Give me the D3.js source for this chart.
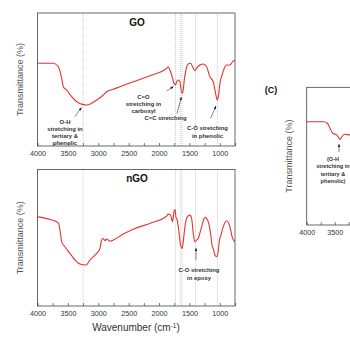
<!DOCTYPE html>
<html><head><meta charset="utf-8">
<script src="https://cdn.jsdelivr.net/npm/d3@7"></script>
<style>body{margin:0;background:#fff}svg{display:block}</style>
</head><body><svg id="c" width="350" height="342"></svg>
<script>
// ---- data ----
const xTicks = [4000,3750,3500,3250,3000,2750,2500,2250,2000,1750,1500,1250,1000,750];
const xTickLabels = [4000,3500,3000,2500,2000,1500,1000];
const guideLines = [3250,1730,1650,1620,1400,1040];

const goWave = [4000,3740,3657,3602,3575,3520,3438,3355,3247,3191,3109,3026,2918,2862,2753,2643,2424,2150,1875,1849,1821,1777,1755,1727,1711,1684,1656,1640,1618,1602,1585,1558,1520,1480,1437,1410,1382,1327,1272,1217,1163,1108,1064,1043,1020,998,954,916,888,833,780,752];
const goT    = [62.2,62.2,59.6,50.9,44.6,42.1,37.1,33.3,31.1,30.8,32.1,34.6,38.3,40.8,42.6,44.6,48.3,52.9,58.4,59.6,57.1,50.9,47.1,45.9,48.3,49.6,48.3,43.4,39.6,42.1,49.6,57.1,61.7,62.2,58.4,56.6,58.4,60.9,61.7,59.6,52.1,48.3,38.3,34.6,38.3,47.1,54.7,59.6,60.9,60.9,63.9,64.2];

const ngoWave = [4000,3794,3657,3630,3602,3548,3465,3383,3301,3202,3137,3026,2972,2944,2918,2890,2862,2808,2753,2589,2424,2150,1875,1849,1810,1777,1755,1738,1722,1700,1673,1645,1618,1602,1574,1536,1492,1464,1437,1410,1382,1355,1300,1245,1190,1152,1125,1108,1081,1053,1026,1010,982,944,888,833,790,752];
const ngoT    = [65.3,63.4,60.9,55.6,47.0,43.4,38.5,33.7,30.7,30.0,33.7,38.5,42.2,48.3,49.5,47.8,49.0,47.5,48.3,52.7,56.3,60.5,65.8,67.3,66.6,61.7,69.0,70.7,65.3,62.9,54.4,44.6,42.2,47.0,58.0,65.3,66.6,64.2,53.2,47.0,48.3,49.5,58.0,64.9,61.7,53.2,43.9,42.2,37.3,36.1,39.7,47.0,51.9,58.0,62.4,58.0,49.5,47.0];

const cWave = [4000,3702,3631,3584,3536,3464,3405,3375,3316,3227,3100];
const cT    = [75.0,75.0,73.9,70.2,66.6,65.4,62.2,64.1,65.9,65.4,65.2];
const cTicks = [4000,3750,3500,3250,3000];
const cTickLabels = [4000,3500];

// ---- drawing ----
const svg = d3.select("#c");
const RED = "#e8322f";
const FONT = "'Liberation Sans', Arial, sans-serif";

function panel(o){
  const g = svg.append("g");
  const x = d3.scaleLinear().domain(o.xDomain).range([o.x0, o.x1]);
  const y = d3.scaleLinear().domain([0,100]).range([o.y1, o.y0]);
  (o.guides||[]).forEach(w=>{
    g.append("line").attr("x1",x(w)).attr("x2",x(w)).attr("y1",o.y0).attr("y2",o.y1)
      .attr("stroke","#aaa").attr("stroke-width",0.6).attr("stroke-dasharray","1,1");
  });
  const data = o.wave.map((w,i)=>[w,o.t[i]]);
  g.append("path").datum(data)
    .attr("d", d3.line().x(d=>x(d[0])).y(d=>y(d[1])).curve(d3.curveMonotoneX))
    .attr("fill","none").attr("stroke",RED).attr("stroke-width",1.1);
  g.append("rect").attr("x",o.x0).attr("y",o.y0).attr("width",o.boxW||(o.x1-o.x0)).attr("height",o.y1-o.y0)
    .attr("fill","none").attr("stroke","#444").attr("stroke-width",0.8);
  const ax = d3.axisBottom(x).tickValues(o.ticks).tickSizeInner(-3).tickSizeOuter(0)
    .tickFormat(d=> o.labels.includes(d) ? d : "");
  const a = g.append("g").attr("transform",`translate(0,${o.y1})`).call(ax);
  a.select(".domain").remove();
  a.selectAll(".tick line").attr("stroke","#444").attr("stroke-width",0.7);
  a.selectAll(".tick text").attr("font-family",FONT).attr("font-size",7.2).attr("fill","#333").attr("dy","0.3em").attr("y",8);
  g.append("text").attr("transform",`translate(${o.ytx},${(o.y0+o.y1)/2}) rotate(-90)`)
    .attr("text-anchor","middle").attr("font-family",FONT).attr("font-size",9).attr("fill","#555")
    .text("Transmittance (%)");
  return {g,x,y};
}

function note(g, lines, cx, y0, lh, fs){
  const t = g.append("text").attr("text-anchor","middle").attr("font-family",FONT)
    .attr("font-size",fs||5.9).attr("font-weight","bold").attr("fill","#333");
  lines.forEach((s,i)=> t.append("tspan").attr("x",cx).attr("y",y0+i*lh).text(s));
}
function arrow(g, x1,y1,x2,y2){
  g.append("line").attr("x1",x1).attr("y1",y1).attr("x2",x2).attr("y2",y2)
    .attr("stroke","#333").attr("stroke-width",0.6);
  const ang = Math.atan2(y2-y1,x2-x1), L=3, W=1.3;
  const bx = x2-L*Math.cos(ang), by = y2-L*Math.sin(ang);
  const px = -Math.sin(ang)*W, py = Math.cos(ang)*W;
  g.append("path").attr("d",`M${x2},${y2}L${bx+px},${by+py}L${bx-px},${by-py}Z`).attr("fill","#222");
}

// Panel GO
const p1 = panel({xDomain:[4000,750], x0:37.5, x1:235, y0:13, y1:146, wave:goWave, t:goT,
  guides:guideLines, ticks:xTicks, labels:xTickLabels, ytx:23});
p1.g.append("text").attr("x",137).attr("y",25.5).attr("text-anchor","middle").attr("font-family",FONT)
  .attr("font-size",10).attr("font-weight","bold").attr("fill","#111").text("GO");
note(p1.g, ["O-H","stretching in","tertiary &","phenolic"], 65, 124, 7);
arrow(p1.g, 75,116.5, 81.5,107.5);
note(p1.g, ["C=O","stretching in","carboxyl"], 143.5, 98.5, 7);
arrow(p1.g, 166.5,91, 173.5,86.5);
note(p1.g, ["C=C stretching"], 165.5, 119.5, 7);
arrow(p1.g, 177,113.5, 181.5,97);
note(p1.g, ["C-O stretching","in phenolic"], 207.5, 130, 7.5);
arrow(p1.g, 210.5,118.5, 216,106);

// Panel nGO
const p2 = panel({xDomain:[4000,750], x0:37.5, x1:235, y0:169.5, y1:306, wave:ngoWave, t:ngoT,
  guides:guideLines, ticks:xTicks, labels:xTickLabels, ytx:23});
p2.g.append("text").attr("x",137).attr("y",182).attr("text-anchor","middle").attr("font-family",FONT)
  .attr("font-size",10).attr("font-weight","bold").attr("fill","#111").text("nGO");
note(p2.g, ["C-O stretching","in epoxy"], 199, 272, 7.5);
arrow(p2.g, 196,260, 196,248);
const wt = p2.g.append("text").attr("x",136).attr("y",331).attr("text-anchor","middle").attr("font-family",FONT)
  .attr("font-size",10).attr("fill","#333");
wt.append("tspan").text("Wavenumber (cm");
wt.append("tspan").attr("font-size",6.5).attr("dy",-3.5).text("-1");
wt.append("tspan").attr("dy",3.5).text(")");

// Panel (C)
const p3 = panel({xDomain:[4000,3000], x0:306.7, x1:362.7, boxW:300, y0:87.3, y1:225, wave:cWave, t:cT,
  guides:[], ticks:cTicks, labels:cTickLabels, ytx:292});
svg.append("text").attr("x",271).attr("y",93).attr("text-anchor","middle").attr("font-family",FONT)
  .attr("font-size",9).attr("font-weight","bold").attr("fill","#111").text("(C)");
note(p3.g, ["(O-H","stretching in","tertiary &","phenolic)"], 333, 161, 7.3, 5.6);
arrow(p3.g, 339,152, 339,144);
</script></body></html>
